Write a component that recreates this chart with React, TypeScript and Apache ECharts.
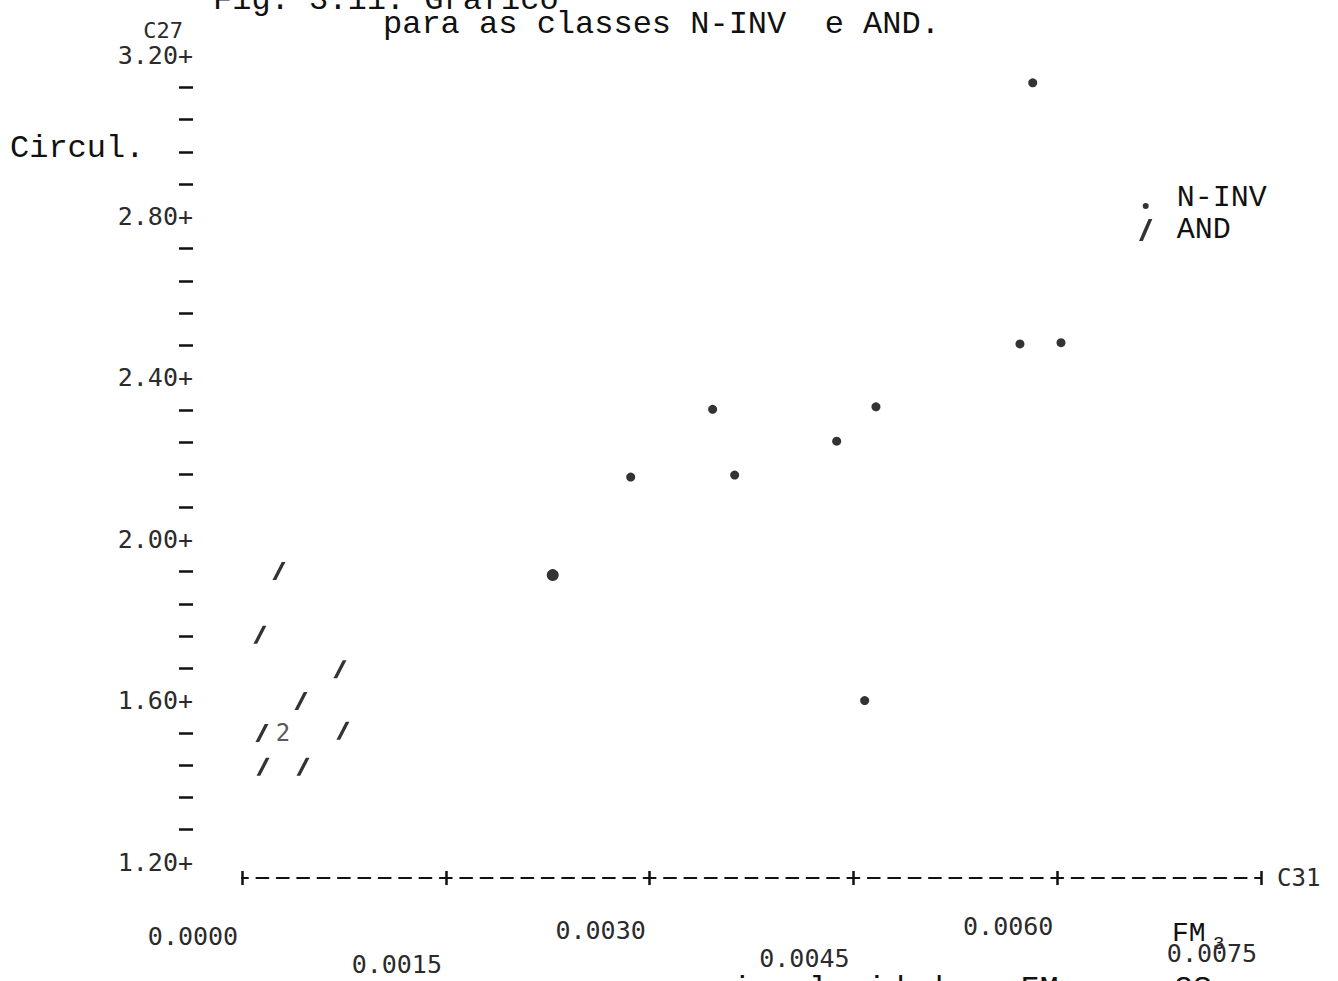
import React, { useEffect, useRef } from "react";
import * as echarts from "echarts";

// ---- data ----
const xTickValues = [0, 0.0015, 0.003, 0.0045, 0.006, 0.0075];
const yTickValues = [1.2, 1.6, 2.0, 2.4, 2.8, 3.2];

// N-INV (plotted as ".")
const nInvFM3 = [0.00582, 0.005726, 0.006028, 0.003464, 0.004666, 0.004377, 0.002861, 0.003626, 0.002287, 0.004583];
const nInvCircul = [3.131, 2.484, 2.487, 2.322, 2.328, 2.243, 2.154, 2.159, 1.911, 1.6];

// AND (plotted as "/"; coincident points printed as a count)
const andFM3 = [0.000272, 0.000132, 0.000721, 0.000434, 0.000147, 0.000302, 0.000302, 0.000743, 0.000155, 0.000449];
const andCircul = [1.921, 1.763, 1.678, 1.599, 1.52, 1.52, 1.52, 1.525, 1.436, 1.436];

const seriesNames = ["N-INV", "AND"];

// ---- styling (not data) ----
const MONO = '"Liberation Mono", "DejaVu Sans Mono", monospace';
const DOT = '"DejaVu Sans Mono", monospace';
const INK = "#111";
const DOT_INK = "#2b2b2b";
const SLASH = "path://M0,23L4,23L14,0L10,0Z";
const DOT_ICON = "path://M0,0L0.3,0L0,0.3Z M3,16A3,3 0 1 1 3,22A3,3 0 1 1 3,16Z";
const largeDotIndex = 8;
// staggered, slightly drifting rows of the printed x tick labels
const xLabelDrop = [22, 78, 10, 66, 2, 56];

function buildAnd() {
  const counts: Record<string, number> = {};
  andFM3.forEach((x, i) => {
    const k = x + "|" + andCircul[i];
    counts[k] = (counts[k] || 0) + 1;
  });
  const seen: Record<string, boolean> = {};
  return andFM3.map((x, i) => {
    const k = x + "|" + andCircul[i];
    if (counts[k] > 1) {
      const first = !seen[k];
      seen[k] = true;
      return {
        value: [x, andCircul[i]],
        symbolSize: 0,
        label: {
          show: first,
          position: "inside",
          formatter: String(counts[k]),
          fontFamily: DOT,
          fontSize: 24,
          color: DOT_INK,
        },
      };
    }
    return { value: [x, andCircul[i]] };
  });
}

const fmtX = (v: number) => v.toFixed(4);

export default function App() {
  const ref = useRef<HTMLDivElement>(null);
  useEffect(() => {
    if (!ref.current) return;
    const chart = echarts.init(ref.current, undefined, { renderer: "svg" });
    const xRange = {
      type: "value",
      min: xTickValues[0],
      max: xTickValues[xTickValues.length - 1],
      interval: xTickValues[1] - xTickValues[0],
    };
    const yRange = {
      type: "value",
      min: yTickValues[0],
      max: yTickValues[yTickValues.length - 1],
      interval: yTickValues[1] - yTickValues[0],
    };
    const rich: Record<string, any> = {};
    xLabelDrop.forEach((d, i) => {
      rich["r" + i] = {
        fontFamily: DOT,
        fontSize: 25,
        color: DOT_INK,
        lineHeight: 20,
        padding: [d, 98, 0, 0],
      };
    });
    chart.setOption({
      animation: false,
      backgroundColor: "#fff",
      grid: [
        { left: 242, right: 77, top: 55, bottom: 119, containLabel: false, outerBoundsMode: "none" },
        { left: 193, right: 1144, top: 55, bottom: 119, containLabel: false, outerBoundsMode: "none" },
      ],
      legend: {
        orient: "vertical",
        left: 1134,
        top: 178,
        itemWidth: 52,
        itemHeight: 22,
        itemGap: 2,
        selectedMode: false,
        textStyle: { fontFamily: MONO, fontSize: 30, color: INK },
        data: [
          { name: seriesNames[0], icon: DOT_ICON },
          { name: seriesNames[1], icon: SLASH },
        ],
      },
      xAxis: [
        {
          ...xRange,
          gridIndex: 0,
          position: "bottom",
          offset: 16,
          splitLine: { show: false },
          axisLine: {
            show: true,
            lineStyle: { color: INK, width: 2, type: [12, 8.38], dashOffset: 6 },
          },
          axisTick: { show: true, inside: false, length: 7, lineStyle: { color: INK, width: 2.5 } },
          axisLabel: {
            show: true,
            margin: 37,
            formatter: (v: number) => {
              const idx = xTickValues.findIndex((t) => Math.abs(t - v) < 1e-9);
              return `{r${Math.max(idx, 0)}|${fmtX(v)}}`;
            },
            rich,
          },
          name: "C31",
          nameLocation: "end",
          nameGap: 16,
          nameMoveOverlap: false,
          nameTextStyle: { fontFamily: DOT, fontSize: 24, color: DOT_INK, align: "left", verticalAlign: "middle" },
        },
        {
          ...xRange,
          gridIndex: 0,
          position: "bottom",
          offset: 16,
          splitLine: { show: false },
          axisLine: { show: false },
          axisTick: { show: true, inside: true, length: 7, lineStyle: { color: INK, width: 2.5 } },
          axisLabel: { show: false },
        },
        {
          ...xRange,
          gridIndex: 1,
          show: false,
        },
      ],
      yAxis: [
        {
          ...yRange,
          gridIndex: 0,
          show: false,
          splitLine: { show: false },
        },
        {
          ...yRange,
          gridIndex: 1,
          position: "left",
          axisLine: { show: false },
          axisTick: { show: false },
          minorTick: { show: true, splitNumber: 5, length: 14, lineStyle: { color: INK, width: 2.5 } },
          splitLine: { show: false },
          axisLabel: {
            margin: 0,
            formatter: (v: number) => v.toFixed(2) + "+",
            fontFamily: DOT,
            fontSize: 25,
            color: DOT_INK,
          },
          name: "C27",
          nameLocation: "end",
          nameGap: 25,
          nameMoveOverlap: false,
          nameTextStyle: {
            fontFamily: DOT,
            fontSize: 22,
            color: DOT_INK,
            align: "right",
            verticalAlign: "middle",
            padding: [0, 10, 0, 0],
          },
        },
      ],
      graphic: [
        {
          type: "text",
          x: 213,
          y: 16,
          style: { text: "Fig. 3.11. Gráfico", fontFamily: MONO, fontSize: 32, fill: INK, verticalAlign: "bottom" },
        },
        {
          type: "text",
          x: 383,
          y: 24,
          style: { text: "para as classes N-INV  e AND.", fontFamily: MONO, fontSize: 32, fill: INK, verticalAlign: "middle" },
        },
        {
          type: "text",
          x: 10,
          y: 148,
          style: { text: "Circul.", fontFamily: MONO, fontSize: 32, fill: INK, verticalAlign: "middle" },
        },
        {
          type: "text",
          x: 1172,
          y: 933,
          style: { text: "FM", fontFamily: MONO, fontSize: 28, fill: INK, verticalAlign: "middle" },
        },
        {
          type: "text",
          x: 1213,
          y: 944,
          style: { text: "3", fontFamily: MONO, fontSize: 19, fill: INK, verticalAlign: "middle" },
        },
        {
          type: "text",
          x: 713,
          y: 973,
          style: { text: "circularidade e FM para 3S", fontFamily: MONO, fontSize: 32, fill: INK, verticalAlign: "top" },
        },
      ],
      series: [
        {
          name: seriesNames[0],
          type: "scatter",
          xAxisIndex: 0,
          yAxisIndex: 0,
          symbol: "circle",
          symbolSize: 9,
          itemStyle: { color: "#000" },
          data: nInvFM3.map((x, i) =>
            i === largeDotIndex
              ? { value: [x, nInvCircul[i]], symbolSize: 12 }
              : { value: [x, nInvCircul[i]] }
          ),
        },
        {
          name: seriesNames[1],
          type: "scatter",
          xAxisIndex: 0,
          yAxisIndex: 0,
          symbol: SLASH,
          symbolSize: [13, 18],
          itemStyle: { color: "#000" },
          data: buildAnd(),
        },
      ],
    });
    return () => chart.dispose();
  }, []);
  return (
    <div
      ref={ref}
      style={{ position: "absolute", left: 0, top: 0, width: 1338, height: 981, background: "#fff" }}
    />
  );
}
